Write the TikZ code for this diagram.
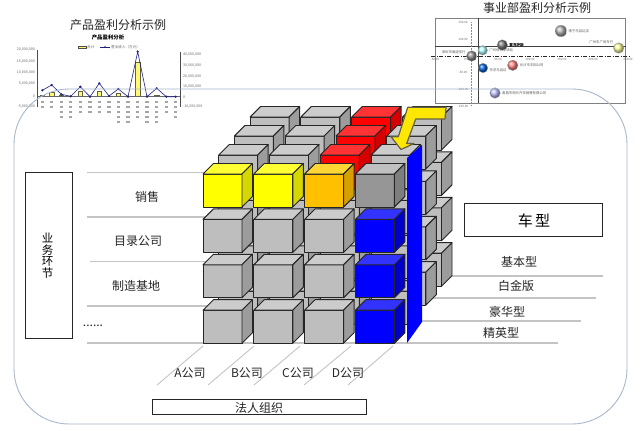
\documentclass[tikz,border=0pt]{standalone}
\usepackage{fontspec}
\setmainfont{Noto Sans CJK SC}
\usepackage{tikz}
\usetikzlibrary{positioning,shapes.geometric}
\definecolor{plainF}{HTML}{BEBEBE}\definecolor{plainT}{HTML}{CCCCCC}\definecolor{plainS}{HTML}{9C9C9C}
\definecolor{lemonF}{HTML}{FFFF00}\definecolor{lemonT}{HTML}{FFFF33}\definecolor{lemonS}{HTML}{D6D600}
\definecolor{amberF}{HTML}{FFC000}\definecolor{amberT}{HTML}{FFD633}\definecolor{amberS}{HTML}{D6A000}
\definecolor{steelF}{HTML}{969696}\definecolor{steelT}{HTML}{C0C0C0}\definecolor{steelS}{HTML}{7E7E7E}
\definecolor{hotF}{HTML}{FF0000}\definecolor{hotT}{HTML}{FF3333}\definecolor{hotS}{HTML}{D60000}
\definecolor{deepF}{HTML}{0000FF}\definecolor{deepT}{HTML}{3333FF}\definecolor{deepS}{HTML}{0000CC}
\definecolor{frameblue}{HTML}{A8B8CC}
\definecolor{rulegray}{HTML}{C4C4C4}
\definecolor{chartnavy}{HTML}{1F1F80}
\newcommand{\drawcube}[3]{%
  \draw[cubeedge,fill=#3F] (#1,#2) rectangle ++(39,33);
  \draw[cubeedge,fill=#3T] (#1,#2) -- ++(10.5,-10.5) -- ++(39,0) -- ++(-10.5,10.5) -- cycle;
  \draw[cubeedge,fill=#3S] ({#1+39},#2) -- ++(10.5,-10.5) -- ++(0,33) -- ++(-10.5,10.5) -- cycle;
}
\newcommand{\cubeat}[3]{%
  \pgfmathsetmacro{\cx}{203+50.8*#2+15.7*#1}
  \pgfmathsetmacro{\cy}{174+45.4*#3-19*#1}
  \drawcube{\cx}{\cy}
}
\begin{document}
\begin{tikzpicture}[x=1pt,y=-1pt,
    cubeedge/.style={draw=black!85,line width=.95pt,line join=round},
    guide/.style={draw=rulegray,line width=1.3pt},
    slant/.style={draw=rulegray,line width=.9pt},
    lab/.style={font=\fontsize{12}{14}\selectfont,text=black!85,inner sep=0pt},
    title/.style={font=\fontsize{12}{14}\selectfont,text=black!85,inner sep=0pt},
    labbox/.style={draw=black!85,line width=.8pt,fill=white,inner sep=0pt},
    tiny/.style={font=\fontsize{3.6}{4}\selectfont,text=black!60,inner sep=0pt},
    bubble/.style={circle,inner sep=0pt,minimum size=10.5pt,draw=black!40,line width=.3pt},
    bubtext/.style={font=\fontsize{3.4}{4}\selectfont,text=black!65,inner sep=1.5pt}]
  \useasboundingbox (0,0) rectangle (640,431);
  \fill[white] (0,0) rectangle (640,431);

  % left chart
  \node[title] (chartA) at (118,25) {产品盈利分析示例};
  \node[font=\fontsize{5.4}{6}\selectfont\bfseries,inner sep=0pt] (chartAsub) at (108,37) {产品盈利分析};
  \draw[draw=black!70,fill=yellow!60,line width=.6pt] (78,46) rectangle (86,48.5);
  \node[tiny,right=1pt of {(86,47)}] (legA) {合计};
  \draw[chartnavy,line width=.6pt] (100,47) -- (110,47);
  \fill[chartnavy] (105,47) circle (.9);
  \node[tiny,right=1pt of {(110,47)}] (legB) {营业收入（万元）};
  \draw[black!70,line width=.6pt] (37.7,50) -- (37.7,107);
  \draw[black!70,line width=.6pt] (180.3,52) -- (180.3,107);
  \foreach \ty/\tl in {50/20{,}000{,}000,62/15{,}000{,}000,73/10{,}000{,}000,84/5{,}000{,}000,96/0,107/-5{,}000{,}000}
    \node[tiny,anchor=east] at (35,\ty) {\tl};
  \foreach \ty/\tl in {55/40{,}000{,}000,66/30{,}000{,}000,76.5/20{,}000{,}000,87/10{,}000{,}000,97/0,107/-10{,}000{,}000}
    \node[tiny,anchor=west] at (183,\ty) {\tl};
  \foreach \bx/\by in {42.3/95,51.7/92,61.3/95,80.3/91,99.3/91.5,118.3/93,137.7/62,156.7/95}
    \draw[draw=black!70!yellow,fill=yellow!55,line width=.6pt] (\bx-2.2,96) rectangle (\bx+2.2,\by);
  \draw[black!60,line width=.6pt] (37.7,96) -- (180.3,96);
  \draw[chartnavy,line width=.6pt,mark=*,mark size=.8pt] plot coordinates {(42.3,90.3) (51.7,85) (61.3,94.3) (70.7,96.3) (80.3,86.7) (90,96.7) (99.3,83.3) (109,96) (118.3,89) (128,96.7) (137.7,51.7) (147,96.7) (156.7,88.3) (166.3,96.7) (175.7,96.7)};
  \foreach \bx/\rows in {42.3/2,51.7/2,61.3/4,70.7/4,80.3/3,90/3,99.3/3,109/3,118.3/5,128/5,137.7/4,147/5,156.7/5,166.3/3,175.7/4}
    \foreach \r in {1,...,\rows}
      \fill[black!35] (\bx-1.7,95.5+5*\r) rectangle ++(3.4,2);

  % right chart
  \node[title] (chartB) at (537,8) {事业部盈利分析示例};
  \draw[black!50,line width=.9pt] (435,18) rectangle (625.7,103);
  \draw[black!75,line width=.7pt] (478.3,18) -- (478.3,103);
  \draw[black!75,line width=.7pt] (435,46) -- (625.7,46);
  \draw[black!85,line width=.6pt,dash pattern=on 4pt off 1.5pt on 1pt off 1.5pt] (431,56.7) -- (630,56.7);
  \draw[black!45,line width=.5pt,densely dotted] (471.7,22) -- (471.7,106);
  \foreach \ty/\tl in {22.7/150.00,39/100.00,72.7/-50.00,89/-100.00,106/-150.00}
    \node[tiny,font=\fontsize{3}{3}\selectfont] at (463,\ty) {\tl};
  \foreach \tx/\tl in {435/-50.00,467/0.00,498/50.00,530/100.00,562/150.00,593/200.00,628/250.00}
    \node[tiny,font=\fontsize{3}{3}\selectfont] at (\tx,59) {\tl};
  \node[bubble,ball color=black!30,minimum size=11.5pt,label={[bubtext]right:南宁马自达店}] (busTop) at (561,31) {};
  \node[bubble,ball color=yellow!40!white,label={[bubtext,yshift=-1pt]above left:广州丰广场车行}] (busOlive) at (618.7,48) {};
  \node[bubble,ball color=black!55,label={[bubtext,font=\fontsize{3.6}{4}\selectfont\bfseries,text=black]right:雷克萨斯}] (busDark) at (502.3,45) {};
  \node[bubble,ball color=cyan!30!white,minimum size=9.5pt,label={[bubtext]right:广州世界车场站}] (busCyan) at (482.7,50.3) {};
  \node[bubble,ball color=black!45,label={[bubtext,yshift=4pt,xshift=1pt]left:深圳市奥迪车行}] (busGray) at (471.7,56) {};
  \node[bubble,ball color=blue!55!cyan!85!black,minimum size=9.5pt,label={[bubtext,yshift=-2.5pt]right:东京马自达}] (busBlue) at (483,68) {};
  \node[bubble,ball color=red!50,label={[bubtext]right:长沙市丰田公司}] (busRed) at (512.7,65.3) {};
  \node[bubble,ball color=blue!25,label={[bubtext]right:南昌市现代汽车销售有限公司}] (busLav) at (495,93) {};

  % outer frame
  \draw[frameblue,line width=.9pt,rounded corners=55pt] (14,89) rectangle (627,424);

  % guide lines
  \foreach \gy/\gs in {172.7/87,217/87,261.5/90,306/87,343/87}
    \draw[guide] (\gs,\gy) -- (215,\gy);
  \foreach \gy/\gs/\ge in {276/430/602.7,298/430/595.7,321/420/580.7,343/215/558}
    \draw[guide] (\gs,\gy) -- (\ge,\gy);
  \foreach \sa/\sb in {203/157,254/208,300/254,351/304,393/348}
    \draw[slant] (\sa,346) -- (\sb,385);

  % cubes, back layer first
  \foreach \lay in {3,2,1}{
    \foreach \row in {1,2,3}
      \foreach \col in {0,...,3}{\cubeat{\lay}{\col}{\row}{plain}}
    \foreach \col/\tone in {0/plain,1/plain,2/hot,3/plain}{\cubeat{\lay}{\col}{0}{\tone}}
  }
  \foreach \col/\tone in {0/lemon,1/lemon,2/amber,3/steel}{\cubeat{0}{\col}{0}{\tone}}
  \foreach \row in {1,2,3}
    \foreach \col/\tone in {0/plain,1/plain,2/plain,3/deep}{\cubeat{0}{\col}{\row}{\tone}}

  % slab and arrow
  \fill[deepF] (407,158) -- (422,145) -- (422,322) -- (407,343) -- cycle;
  \draw[draw=black!70!yellow,fill=yellow!90!orange,line width=1.2pt,line join=round]
    (446,107.3) -- (445,119) -- (415.7,119) -- (406.7,143.5) -- (414,143.5) -- (401,149.5) -- (391,136.7) -- (398.3,136.7) -- (407.7,107.3) -- cycle;

  % labels
  \node[labbox,minimum width=47pt,minimum height=166pt] (sideBox) at (48.5,255) {};
  \node[lab,font=\fontsize{11.5}{11.5}\selectfont,text=black,align=center] (sideText) at (47.5,255.5) {业\\务\\环\\节};
  \node[labbox,minimum width=138.4pt,minimum height=33pt] (typeBox) at (533.5,219.5) {};
  \node[lab,font=\fontsize{15}{17}\selectfont,text=black] (typeText) at (534,221) {车\,型};
  \node[labbox,minimum width=214pt,minimum height=15pt] (orgBox) at (259,406.5) {};
  \node[lab,font=\fontsize{12}{14}\selectfont] (orgText) at (259,408) {法人组织};

  \node[lab] (sales) at (147,197) {销售};
  \node[lab] (catalog) at (138,241) {目录公司};
  \node[lab] (plant) at (136,286) {制造基地};
  \node[lab] (others) at (93,325.5) {......};
  \node[lab] (typeA) at (519,262) {基本型};
  \node[lab] (typeB) at (516,286) {白金版};
  \node[lab] (typeC) at (507,312) {豪华型};
  \node[lab] (typeD) at (501,333) {精英型};
  \node[lab] (compA) at (190,373) {A公司};
  \node[lab] (compB) at (247,373) {B公司};
  \node[lab] (compC) at (298,373) {C公司};
  \node[lab] (compD) at (348,373) {D公司};
\end{tikzpicture}
\end{document}
